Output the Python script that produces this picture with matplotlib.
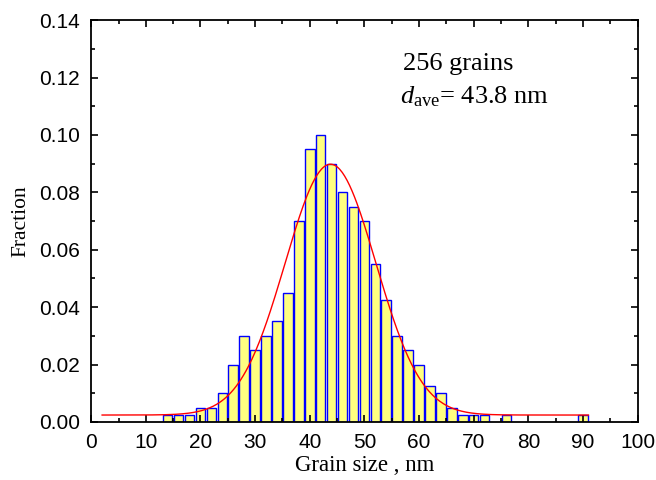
import numpy as np
import matplotlib
matplotlib.use('Agg')
import matplotlib.pyplot as plt
from matplotlib.ticker import MultipleLocator, FormatStrFormatter

# Данные гистограммы (центры бинов, доли)
sizes = [14, 16, 18, 20, 22, 24, 26, 28, 30, 32, 34, 36, 38, 40, 42, 44, 46, 48,
         50, 52, 54, 56, 58, 60, 62, 64, 66, 68, 70, 72, 76, 90]
fractions = [0.0025, 0.0025, 0.0025, 0.005, 0.005, 0.01, 0.02, 0.03, 0.025, 0.03,
             0.035, 0.045, 0.07, 0.095, 0.1, 0.09, 0.08, 0.075, 0.07, 0.055,
             0.0425, 0.03, 0.025, 0.02, 0.0125, 0.01, 0.005, 0.0025, 0.0025,
             0.0025, 0.0025, 0.0025]

# Параметры гауссовой аппроксимации
y0 = 0.0024
amp = 0.0874
xc = 43.8
sigma = 8.3

plt.rcParams['mathtext.fontset'] = 'custom'
plt.rcParams['mathtext.rm'] = 'Liberation Serif'
plt.rcParams['mathtext.it'] = 'Liberation Serif:italic'

fig = plt.figure(figsize=(6.56, 4.8), dpi=100)
ax = fig.add_axes([0.139, 0.121, 0.833, 0.837])

ax.bar(sizes, fractions, width=1.75, color='#FFFF80', edgecolor='#0000FF', linewidth=1.0)

xf = np.linspace(2, 91, 400)
ax.plot(xf, y0 + amp * np.exp(-(xf - xc) ** 2 / (2 * sigma ** 2)), color='red', lw=1.0)

ax.set_xlim(0, 100)
ax.set_ylim(0, 0.14)
ax.xaxis.set_major_locator(MultipleLocator(10))
ax.xaxis.set_minor_locator(MultipleLocator(5))
ax.yaxis.set_major_locator(MultipleLocator(0.02))
ax.yaxis.set_minor_locator(MultipleLocator(0.01))
ax.yaxis.set_major_formatter(FormatStrFormatter('%.2f'))
ax.tick_params(which='both', direction='in', top=True, right=True, width=1.2, pad=8)
ax.tick_params(which='major', length=5)
ax.tick_params(which='minor', length=3)
for lab in ax.get_xticklabels() + ax.get_yticklabels():
    lab.set_family('Liberation Sans')
    lab.set_fontsize(15)
for s in ax.spines.values():
    s.set_linewidth(1.3)

ax.set_xlabel('Grain size , nm', family='Liberation Serif', fontsize=16.5, labelpad=2)
ax.set_ylabel('Fraction', family='Liberation Serif', fontsize=15.5, labelpad=6)

ax.text(57, 0.1225, '256 grains', family='Liberation Serif', fontsize=19)
ax.text(56.5, 0.111, r'$d_{\mathrm{ave}}$= 43.8 nm', family='Liberation Serif', fontsize=19)

fig.savefig('out.png', dpi=100)
